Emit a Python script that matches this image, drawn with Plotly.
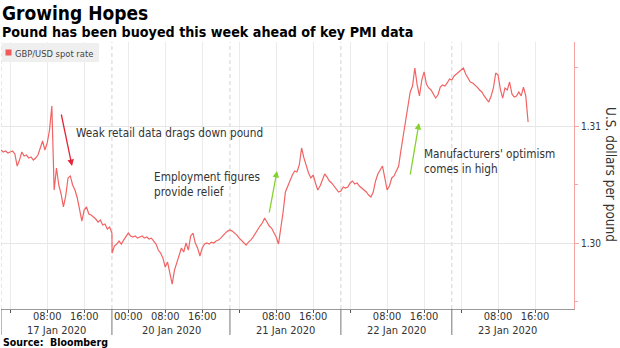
import plotly.graph_objects as go
import pandas as pd

# ---------------- data ----------------
series_name = "GBP/USD spot rate"
freq = "30min"

# session 1: 16 Jan 22:00 -> 17 Jan 22:00
seg1_start = "2020-01-16 22:00"
seg1_values = [
    1.30795, 1.30778, 1.30786, 1.30769, 1.30778, 1.30786, 1.30761, 1.30658, 1.30709, 1.30778,
    1.30744, 1.30752, 1.30726, 1.30735, 1.30709, 1.30726, 1.30752, 1.30820, 1.30872, 1.30795,
    1.30855, 1.30966, 1.31171, 1.30453, 1.30641, 1.30496, 1.30419, 1.30308, 1.30402, 1.30556,
    1.30573, 1.30496, 1.30453, 1.30385, 1.30282, 1.30188, 1.30282, 1.30308, 1.30248, 1.30239,
    1.30222, 1.30205, 1.30179, 1.30197, 1.30154, 1.30162, 1.30119, 1.30136, 1.30085,
]

# session 2: 19 Jan 20:30 -> 23 Jan 14:30
seg2_start = "2020-01-19 20:30"
seg2_values = [
    1.29914, 1.29974, 1.29991, 1.30017, 1.29991, 1.30025, 1.30051, 1.30085, 1.30060, 1.30051,
    1.30060, 1.30042, 1.30051, 1.30060, 1.30042, 1.30051, 1.30034, 1.30042, 1.30017, 1.29991,
    1.29940, 1.29914, 1.29871, 1.29794, 1.29837, 1.29734, 1.29649, 1.29769, 1.29837, 1.29897,
    1.29957, 1.29923, 1.30000, 1.29940, 1.30060, 1.30085, 1.30000, 1.29957, 1.29889, 1.29957,
    1.29991, 1.30000, 1.29991, 1.30008, 1.30000, 1.30017, 1.30025, 1.30042, 1.30068, 1.30085,
    1.30102, 1.30111, 1.30102, 1.30085, 1.30068, 1.30042, 1.30025, 1.30000, 1.29983, 1.30008,
    1.30025, 1.30051, 1.30085, 1.30119, 1.30145, 1.30171, 1.30214, 1.30179, 1.30145, 1.30128,
    1.30094, 1.30051, 1.29991, 1.30111, 1.30265, 1.30436, 1.30487, 1.30547, 1.30581, 1.30615,
    1.30607, 1.30667, 1.30812, 1.30727, 1.30658, 1.30598, 1.30556, 1.30581, 1.30513, 1.30453,
    1.30487, 1.30538, 1.30590, 1.30564, 1.30530, 1.30513, 1.30487, 1.30453, 1.30436, 1.30445,
    1.30479, 1.30470, 1.30479, 1.30513, 1.30530, 1.30504, 1.30513, 1.30487, 1.30470, 1.30453,
    1.30436, 1.30410, 1.30393, 1.30436, 1.30530, 1.30590, 1.30624, 1.30658, 1.30556, 1.30453,
    1.30487, 1.30556, 1.30573, 1.30624, 1.30658, 1.30795, 1.30923, 1.31068, 1.31180, 1.31291,
    1.31342, 1.31496, 1.31351, 1.31257, 1.31393, 1.31462, 1.31359, 1.31325, 1.31308, 1.31274,
    1.31239, 1.31265, 1.31333, 1.31351, 1.31342, 1.31368, 1.31402, 1.31393, 1.31428, 1.31445,
    1.31462, 1.31479, 1.31496, 1.31445, 1.31410, 1.31376, 1.31368, 1.31351, 1.31333, 1.31308,
    1.31291, 1.31257, 1.31231, 1.31205, 1.31257, 1.31325, 1.31453, 1.31436, 1.31316, 1.31239,
    1.31325, 1.31308, 1.31376, 1.31274, 1.31248, 1.31257, 1.31291, 1.31257, 1.31333, 1.31257,
    1.31034,
]

tick_times = [
    "2020-01-17 00:00", "2020-01-17 08:00", "2020-01-17 16:00",
    "2020-01-20 00:00", "2020-01-20 08:00", "2020-01-20 16:00",
    "2020-01-21 00:00", "2020-01-21 08:00", "2020-01-21 16:00",
    "2020-01-22 00:00", "2020-01-22 08:00", "2020-01-22 16:00",
    "2020-01-23 00:00", "2020-01-23 08:00", "2020-01-23 16:00",
]
tick_labels = ["", "08:00", "16:00", "00:00", "08:00", "16:00",
               "", "08:00", "16:00", "", "08:00", "16:00", "", "08:00", "16:00"]

day_labels = ["17 Jan 2020", "20 Jan 2020", "21 Jan 2020", "22 Jan 2020", "23 Jan 2020"]
day_label_at = ["2020-01-17 10:00", "2020-01-20 09:15", "2020-01-21 10:00",
                "2020-01-22 10:00", "2020-01-23 10:00"]
day_bounds = ["2020-01-16 22:00", "2020-01-17 22:00", "2020-01-20 22:00",
              "2020-01-21 22:00", "2020-01-22 22:00"]

y_ticks = [1.30, 1.31]
y_tick_labels = ["1.30", "1.31"]
y_minor = [1.295, 1.305, 1.315]

notes = [
    dict(text="Weak retail data drags down pound", px=(74, 133)),
    dict(text="Employment figures<br>provide relief", px=(152, 184)),
    dict(text="Manufacturers' optimism<br>comes in high", px=(422, 161)),
]
arrows = [  # (head px, tail px, colour)
    ((72, 166), (61, 113), "#e3263a"),
    ((277, 171), (269, 214), "#84d22a"),
    ((419, 123), (410, 176), "#84d22a"),
]

# ---------------- figure ----------------
times = (list(pd.date_range(seg1_start, periods=len(seg1_values), freq=freq))
         + list(pd.date_range(seg2_start, periods=len(seg2_values), freq=freq)))
values = seg1_values + seg2_values

W, H = 620, 348
ML, MR, MT, MB = 1, 46, 42, 39
PW, PH = W - ML - MR, H - MT - MB


def fx(p):
    return (p - ML) / PW


def fy(p):
    return (H - MB - p) / PH


FONT = "Tahoma, 'DejaVu Sans Condensed', 'Liberation Sans', Arial, sans-serif"
LINE = "#f26363"
AXIS_PINK = "#f6a3a3"

fig = go.Figure()
fig.add_trace(go.Scatter(x=times, y=values, mode="lines", name=series_name,
                         line=dict(color=LINE, width=1.2), showlegend=False))

shapes = []
for b in day_bounds:
    shapes.append(dict(type="line", xref="x", yref="paper", x0=b, x1=b, y0=0, y1=1,
                       line=dict(color="#d2d2d2", width=1, dash="4px,3px"), layer="below"))
    shapes.append(dict(type="line", xref="x", yref="paper", x0=b, x1=b, y0=0, y1=fy(335),
                       line=dict(color="#777777", width=1)))
# legend box
shapes.append(dict(type="rect", xref="paper", yref="paper", x0=fx(2), x1=fx(99),
                   y0=fy(62), y1=fy(43), fillcolor="#efefef", line=dict(width=0)))
shapes.append(dict(type="rect", xref="paper", yref="paper", x0=fx(5.5), x1=fx(11.5),
                   y0=fy(55.5), y1=fy(49.5), fillcolor="#f15a5a", line=dict(width=0)))

ann = []
ann.append(dict(text="<b>Growing Hopes</b>", x=fx(0), y=fy(13), xref="paper", yref="paper",
                xanchor="left", yanchor="middle", showarrow=False,
                font=dict(size=19, color="#000000", family=FONT)))
ann.append(dict(text="<b>Pound has been buoyed this week ahead of key PMI data</b>", x=fx(0), y=fy(32),
                xref="paper", yref="paper", xanchor="left", yanchor="middle", showarrow=False,
                font=dict(size=14.2, color="#000000", family=FONT)))
ann.append(dict(text=series_name, x=fx(13), y=fy(53), xref="paper", yref="paper",
                xanchor="left", yanchor="middle", showarrow=False,
                font=dict(size=9.3, color="#444444", family=FONT)))
ann.append(dict(text="U.S. dollars per pound", x=fx(611), y=fy(174), xref="paper", yref="paper",
                xanchor="center", yanchor="middle", textangle=90, showarrow=False,
                font=dict(size=13.5, color="#333333", family=FONT)))
ann.append(dict(text="<b>Source:  Bloomberg</b>", x=fx(1), y=fy(342), xref="paper", yref="paper",
                xanchor="left", yanchor="middle", showarrow=False,
                font=dict(size=10.5, color="#000000", family=FONT)))
for lab, at in zip(day_labels, day_label_at):
    ann.append(dict(text=lab, x=at, y=fy(330), xref="x", yref="paper", xanchor="center",
                    yanchor="middle", showarrow=False,
                    font=dict(size=11, color="#333333", family=FONT)))
for n in notes:
    ann.append(dict(text=n["text"], x=fx(n["px"][0]), y=fy(n["px"][1]), xref="paper", yref="paper",
                    xanchor="left", yanchor="middle", align="left", showarrow=False,
                    font=dict(size=11.7, color="#333333", family=FONT)))
for head, tail, col in arrows:
    ann.append(dict(text="", x=fx(head[0]), y=fy(head[1]), xref="paper", yref="paper",
                    ax=tail[0] - head[0], ay=tail[1] - head[1], showarrow=True,
                    arrowhead=2, arrowsize=1, arrowwidth=1.3, arrowcolor=col))

fig.update_layout(
    width=W, height=H, margin=dict(l=ML, r=MR, t=MT, b=MB),
    paper_bgcolor="white", plot_bgcolor="white",
    font=dict(family=FONT, color="#333333"),
    shapes=shapes, annotations=ann,
    xaxis=dict(
        type="date", range=["2020-01-16 22:00", "2020-01-24 00:26"],
        rangebreaks=[dict(bounds=["2020-01-17 22:01", "2020-01-19 20:29"])],
        tickvals=tick_times, ticktext=tick_labels, tickangle=0,
        showgrid=True, gridcolor="#ebebeb", gridwidth=1,
        ticks="outside", ticklen=3, tickcolor="#555555",
        showline=True, linecolor="#999999", linewidth=1,
        ticklabelstandoff=-6,
        tickfont=dict(size=11, color="#333333"), zeroline=False,
    ),
    yaxis=dict(
        side="right", range=[1.29436, 1.31718],
        tickvals=y_ticks, ticktext=y_tick_labels,
        showgrid=True, gridcolor="#e6e6e6", zeroline=False,
        showline=True, linecolor=AXIS_PINK, linewidth=1,
        ticks="outside", ticklen=4, tickcolor=AXIS_PINK,
        minor=dict(tickvals=y_minor, ticks="outside", ticklen=3, tickcolor=AXIS_PINK, showgrid=False),
        tickfont=dict(size=10, color="#333333"),
    ),
)

fig.write_html("out.html")
